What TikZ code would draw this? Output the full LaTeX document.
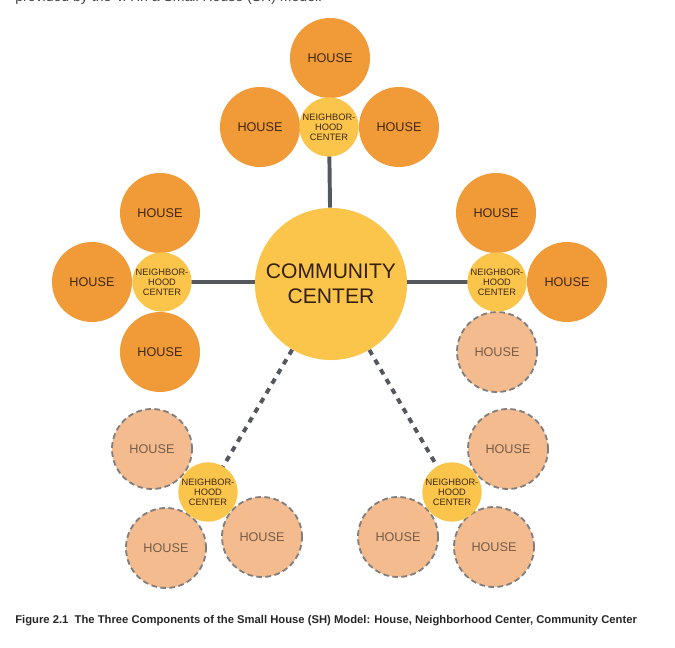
\documentclass[tikz,border=0pt]{standalone}
\usepackage{fontspec}
\setmainfont{Liberation Sans}
\usetikzlibrary{positioning}
\definecolor{tangerine}{RGB}{241,154,56}
\definecolor{peach}{RGB}{244,188,142}
\definecolor{sun}{RGB}{251,197,76}
\definecolor{slate}{RGB}{84,88,94}
\definecolor{rim}{RGB}{128,126,126}
\definecolor{umber}{RGB}{64,40,18}
\definecolor{dust}{RGB}{118,92,74}
\tikzset{
  house/.style={circle,fill=tangerine,minimum size=2cm,inner sep=0pt,
    font=\fontsize{9}{10}\selectfont,text=umber},
  future/.style={circle,fill=peach,draw=rim,line width=1.3pt,dash pattern=on 4pt off 2.5pt,
    minimum size=2cm,inner sep=0pt,font=\fontsize{9}{10}\selectfont,text=dust},
  hub/.style={circle,fill=sun,minimum size=1.48cm,inner sep=0pt,align=center,
    font=\fontsize{6.6}{7}\selectfont,text=umber},
  core/.style={circle,fill=sun,minimum size=3.8cm,inner sep=0pt,align=center,
    font=\fontsize{15}{18}\selectfont,text=umber!80!black},
  link/.style={draw=slate,line width=2.8pt},
  plan/.style={draw=slate,line width=2.8pt,dash pattern=on 4pt off 4pt},
}
\begin{document}
\begin{tikzpicture}[x=0.025cm,y=-0.025cm]
  \useasboundingbox (0,0) rectangle (675,648);
  \node[anchor=base west,inner sep=0pt,font=\fontsize{10}{12}\selectfont,text=black!75] (intro) at (15,2)
    {provided by the VA in a Small House (SH) Model.};
  \node[core] (cc) at (331,284) {COMMUNITY\\CENTER};
  % neighborhood centers
  \foreach \n/\x/\y in {t/329/127,l/162/282,r/497/282,bl/208/492,br/452/492}
    \coordinate (p\n) at (\x,\y);
  \draw[link] (pt) -- (cc);
  \draw[link] (pl) -- (pl -| cc.west);
  \draw[link] (pr) -- (pr -| cc.east);
  \draw[plan] (cc) -- (pbl);
  \draw[plan] (cc) -- (pbr);
  % houses
  \foreach \x/\y [count=\i] in {330/58,260/127,399/127,160/213,92/282,160/352,496/213,567/282}
    \node[house] (h\i) at (\x,\y) {HOUSE};
  \foreach \x/\y [count=\i] in {497/352,508/449,494/547,398/537,152/449,166/548,262/537}
    \node[future] (f\i) at (\x,\y) {HOUSE};
  \foreach \n in {t,l,r,bl,br}
    \node[hub] (n\n) at (p\n) {NEIGHBOR-\\HOOD\\CENTER};
  \node[anchor=base west,inner sep=0pt,font=\fontsize{8}{9}\selectfont\bfseries,text=black!85] (cap) at (15,623)
    {Figure 2.1\ \ The Three Components of the Small House (SH) Model: House, Neighborhood Center, Community Center};
\end{tikzpicture}
\end{document}
